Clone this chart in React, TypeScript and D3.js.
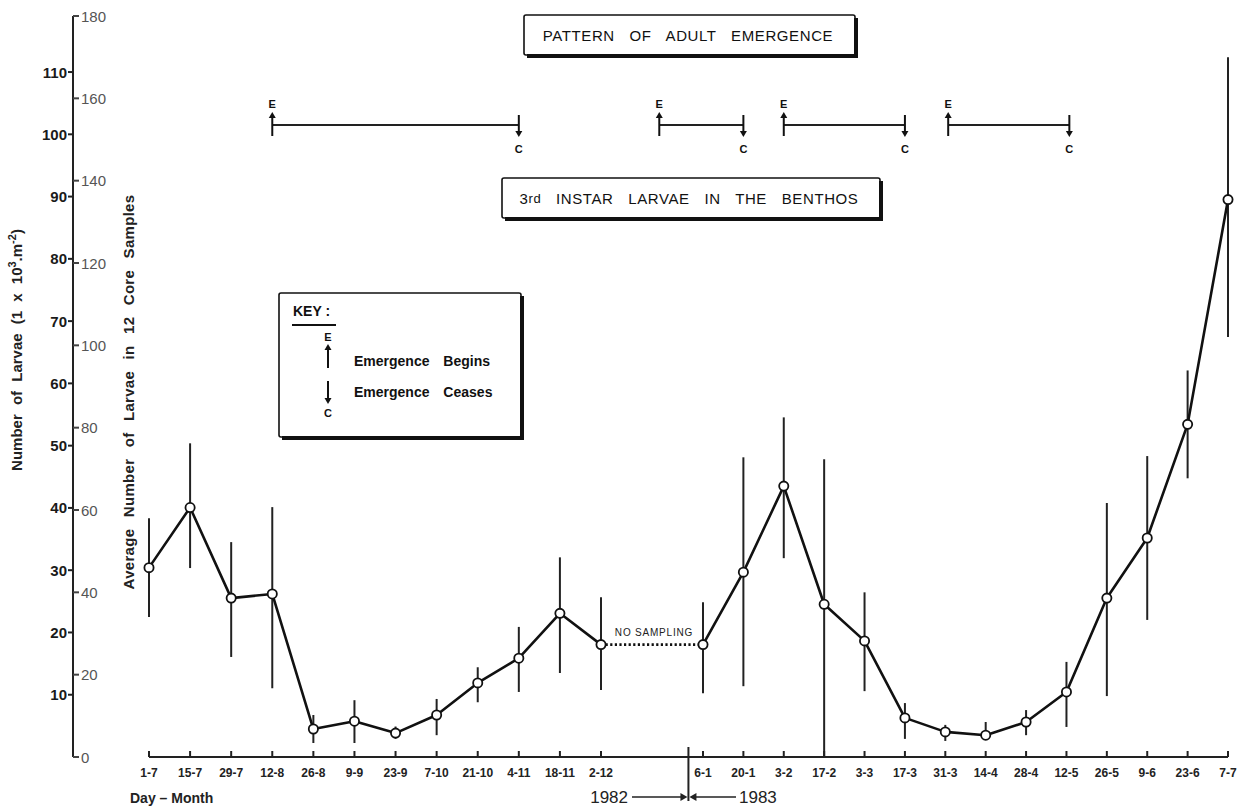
import React from "react";
import * as d3 from "d3";

// Fortnightly benthos sampling dates, July 1982 – July 1983
const sampleDates = [
  "1982-07-01", "1982-07-15", "1982-07-29", "1982-08-12", "1982-08-26", "1982-09-09",
  "1982-09-23", "1982-10-07", "1982-10-21", "1982-11-04", "1982-11-18", "1982-12-02",
  "1983-01-06", "1983-01-20", "1983-02-03", "1983-02-17", "1983-03-03", "1983-03-17",
  "1983-03-31", "1983-04-14", "1983-04-28", "1983-05-12", "1983-05-26", "1983-06-09",
  "1983-06-23", "1983-07-07",
];
const tickLabels = [
  "1-7", "15-7", "29-7", "12-8", "26-8", "9-9", "23-9", "7-10", "21-10", "4-11", "18-11", "2-12",
  "6-1", "20-1", "3-2", "17-2", "3-3", "17-3", "31-3", "14-4", "28-4", "12-5", "26-5", "9-6",
  "23-6", "7-7",
];
// Average number of 3rd instar larvae in 12 core samples, with range bars
const meanCount = [
  46, 60.6, 38.6, 39.6, 6.8, 8.7, 5.8, 10.2, 18, 24, 34.9, 27.3,
  27.3, 44.9, 65.8, 37.1, 28.2, 9.5, 6.1, 5.3, 8.5, 15.8, 38.6, 53.2,
  80.8, 135.4,
];
const upperCount = [
  58, 76.2, 52.2, 60.7, 10.2, 13.8, 7.4, 14.1, 21.8, 31.6, 48.5, 38.8,
  37.6, 72.8, 82.5, 72.3, 40, 13.1, 7.8, 8.5, 11.4, 23.1, 61.7, 73.1,
  93.9, 170,
];
const lowerCount = [
  34, 45.9, 24.3, 16.7, 3.4, 3.4, 4.4, 5.3, 13.3, 15.8, 20.4, 16.3,
  15.5, 17.2, 48.3, 0, 16, 4.4, 3.9, 4.4, 5.3, 7.3, 14.8, 33.3,
  67.7, 102,
];
// Adult emergence periods (E = begins, C = ceases)
const emergenceBegins = ["1982-08-12", "1982-12-22", "1983-02-03", "1983-04-01"];
const emergenceCeases = ["1982-11-04", "1983-01-20", "1983-03-17", "1983-05-13"];

const densityTicks = [10, 20, 30, 40, 50, 60, 70, 80, 90, 100, 110];
const countTicks = [0, 20, 40, 60, 80, 100, 120, 140, 160, 180];

const parse = d3.timeParse("%Y-%m-%d");
const FONT = "'Liberation Sans', Arial, sans-serif";

export default function App() {
  const dates = sampleDates.map((d) => parse(d) as Date);
  // Sampling gap over the new year is drawn slightly compressed
  const x = d3
    .scaleTime()
    .domain([dates[0], dates[11], dates[12], dates[25]])
    .range([149, 601, 703, 1228]);
  const y = d3.scaleLinear().domain([0, 180]).range([757, 16]);
  const yDensity = d3.scaleLinear().domain([0, 119]).range([757, 16]);

  const pts = dates.map((d, i) => ({ d, v: meanCount[i] }));
  const line = d3
    .line<{ d: Date; v: number }>()
    .x((p) => x(p.d))
    .y((p) => y(p.v));
  const part1 = line(pts.slice(0, 12)) || "";
  const gap = line(pts.slice(11, 13)) || "";
  const part2 = line(pts.slice(12)) || "";

  const axisX = 73;
  const baseY = y(0);
  const yearBreak = x(parse("1983-01-01") as Date);
  const emergY = 125;

  const shadowBox = (x0: number, y0: number, x1: number, y1: number, key: string) => (
    <g key={key}>
      <rect x={x0} y={y0} width={x1 - x0} height={y1 - y0} fill="#fff" stroke="#111" strokeWidth={1.6} rx={2} />
      <line x1={x1 + 1} y1={y0 + 3} x2={x1 + 1} y2={y1 + 2} stroke="#111" strokeWidth={4} />
      <line x1={x0 + 3} y1={y1 + 1} x2={x1 + 3} y2={y1 + 1} stroke="#111" strokeWidth={4} />
    </g>
  );

  const upArrow = (cx: number, yTop: number, yBot: number) => (
    <g>
      <line x1={cx} y1={yTop + 5} x2={cx} y2={yBot} stroke="#111" strokeWidth={2} />
      <path d={`M${cx - 3.5},${yTop + 6} L${cx},${yTop} L${cx + 3.5},${yTop + 6} Z`} fill="#111" />
    </g>
  );
  const downArrow = (cx: number, yTop: number, yBot: number) => (
    <g>
      <line x1={cx} y1={yTop} x2={cx} y2={yBot - 5} stroke="#111" strokeWidth={2} />
      <path d={`M${cx - 3.5},${yBot - 6} L${cx},${yBot} L${cx + 3.5},${yBot - 6} Z`} fill="#111" />
    </g>
  );

  return (
    <svg
      width={1240}
      height={808}
      style={{ position: "absolute", left: 0, top: 0, background: "#fff" }}
      fontFamily={FONT}
    >
      {/* Vertical axis shared by both scales */}
      <line x1={axisX} y1={y(180)} x2={axisX} y2={baseY} stroke="#222" strokeWidth={2} />
      {densityTicks.map((t) => (
        <g key={"l" + t}>
          <line x1={axisX - 5} y1={yDensity(t)} x2={axisX} y2={yDensity(t)} stroke="#222" strokeWidth={2} />
          <text
            x={axisX - 6}
            y={yDensity(t)}
            textAnchor="end"
            dominantBaseline="central"
            fontSize={15}
            fontWeight={600}
            fill="#1a1a1a"
          >
            {t}
          </text>
        </g>
      ))}
      {countTicks.map((t) => (
        <g key={"r" + t}>
          <line x1={axisX} y1={y(t)} x2={axisX + 6} y2={y(t)} stroke="#444" strokeWidth={2} />
          <text x={axisX + 8} y={y(t)} dominantBaseline="central" fontSize={15} fill="#555">
            {t}
          </text>
        </g>
      ))}

      {/* Axis titles */}
      <text
        transform={`translate(22,350) rotate(-90)`}
        textAnchor="middle"
        fontSize={15}
        fontWeight={600}
        fill="#222"
        wordSpacing={5}
      >
        Number of Larvae (1 x 10<tspan dy={-6} fontSize={11}>3</tspan>
        <tspan dy={6}>.m</tspan>
        <tspan dy={-6} fontSize={11}>-2</tspan>
        <tspan dy={6}>)</tspan>
      </text>
      <text
        transform={`translate(134,392) rotate(-90)`}
        textAnchor="middle"
        fontSize={15}
        fontWeight={600}
        fill="#222"
        wordSpacing={7}
        letterSpacing={0.3}
      >
        Average Number of Larvae in 12 Core Samples
      </text>

      {/* Time axis */}
      <line x1={x(dates[0])} y1={baseY} x2={x(dates[25])} y2={baseY} stroke="#222" strokeWidth={2} />
      {dates.map((d, i) => (
        <g key={"t" + i}>
          <line x1={x(d)} y1={baseY - 6} x2={x(d)} y2={baseY} stroke="#222" strokeWidth={2} />
          <text
            x={x(d)}
            y={773}
            textAnchor="middle"
            dominantBaseline="central"
            fontSize={12}
            fontWeight={600}
            fill="#222"
          >
            {tickLabels[i]}
          </text>
        </g>
      ))}
      <line x1={yearBreak} y1={baseY - 10} x2={yearBreak} y2={801} stroke="#222" strokeWidth={2} />
      <text x={130} y={798} dominantBaseline="central" fontSize={14} fontWeight={600} fill="#222">
        Day – Month
      </text>
      <text x={628} y={797} textAnchor="end" dominantBaseline="central" fontSize={17} fill="#222">
        1982
      </text>
      <line x1={632} y1={797} x2={yearBreak - 6} y2={797} stroke="#222" strokeWidth={1.5} />
      <path d={`M${yearBreak - 8},793 L${yearBreak - 1},797 L${yearBreak - 8},801 Z`} fill="#222" />
      <line x1={yearBreak + 6} y1={797} x2={736} y2={797} stroke="#222" strokeWidth={1.5} />
      <path d={`M${yearBreak + 8},793 L${yearBreak + 1},797 L${yearBreak + 8},801 Z`} fill="#222" />
      <text x={739} y={797} dominantBaseline="central" fontSize={17} fill="#222">
        1983
      </text>

      {/* Range bars */}
      {dates.map((d, i) => (
        <line
          key={"e" + i}
          x1={x(d)}
          y1={y(upperCount[i])}
          x2={x(d)}
          y2={y(lowerCount[i])}
          stroke="#222"
          strokeWidth={2}
        />
      ))}

      {/* Mean abundance */}
      <path d={part1} fill="none" stroke="#111" strokeWidth={2.6} strokeLinejoin="round" />
      <path d={part2} fill="none" stroke="#111" strokeWidth={2.6} strokeLinejoin="round" />
      <path d={gap} fill="none" stroke="#111" strokeWidth={2.6} strokeDasharray="2.2 2.4" />
      <text
        x={(x(dates[11]) + x(dates[12])) / 2 + 2}
        y={y(meanCount[11]) - 9}
        textAnchor="middle"
        fontSize={10}
        fill="#222"
        letterSpacing={0.8}
      >
        NO SAMPLING
      </text>
      {pts.map((p, i) => (
        <circle key={"c" + i} cx={x(p.d)} cy={y(p.v)} r={4.6} fill="#fff" stroke="#111" strokeWidth={1.8} />
      ))}

      {/* Adult emergence panel */}
      {shadowBox(524, 15, 855, 55, "b1")}
      <text
        x={688}
        y={35}
        textAnchor="middle"
        dominantBaseline="central"
        fontSize={15}
        fill="#111"
        letterSpacing={0.6}
        wordSpacing={10}
      >
        PATTERN OF ADULT EMERGENCE
      </text>
      {emergenceBegins.map((b, i) => {
        const x0 = x(parse(b) as Date);
        const x1 = x(parse(emergenceCeases[i]) as Date);
        return (
          <g key={"em" + i}>
            <line x1={x0} y1={emergY} x2={x1} y2={emergY} stroke="#222" strokeWidth={2} />
            {upArrow(x0, 112, 136)}
            <text x={x0} y={104} textAnchor="middle" dominantBaseline="central" fontSize={11} fontWeight={700} fill="#111">
              E
            </text>
            {downArrow(x1, 115, 137)}
            <text x={x1} y={149} textAnchor="middle" dominantBaseline="central" fontSize={11} fontWeight={700} fill="#111">
              C
            </text>
          </g>
        );
      })}
      {shadowBox(502, 178, 880, 218, "b2")}
      <text
        x={689}
        y={198}
        textAnchor="middle"
        dominantBaseline="central"
        fontSize={15}
        fill="#111"
        letterSpacing={0.6}
        wordSpacing={10}
      >
        3<tspan fontSize={13}>rd</tspan> INSTAR LARVAE IN THE BENTHOS
      </text>

      {/* Key */}
      {shadowBox(279, 293, 521, 437, "b3")}
      <text x={293} y={316} fontSize={14} fontWeight={700} fill="#111">
        KEY :
      </text>
      <line x1={292} y1={325} x2={336} y2={325} stroke="#111" strokeWidth={2} />
      <text x={328} y={337} textAnchor="middle" dominantBaseline="central" fontSize={11} fontWeight={700} fill="#111">
        E
      </text>
      {upArrow(328, 344, 368)}
      <text x={354} y={361} dominantBaseline="central" fontSize={14} fontWeight={700} fill="#111" wordSpacing={10}>
        Emergence Begins
      </text>
      {downArrow(328, 381, 404)}
      <text x={354} y={392} dominantBaseline="central" fontSize={14} fontWeight={700} fill="#111" wordSpacing={10}>
        Emergence Ceases
      </text>
      <text x={328} y={413} textAnchor="middle" dominantBaseline="central" fontSize={11} fontWeight={700} fill="#111">
        C
      </text>
    </svg>
  );
}
